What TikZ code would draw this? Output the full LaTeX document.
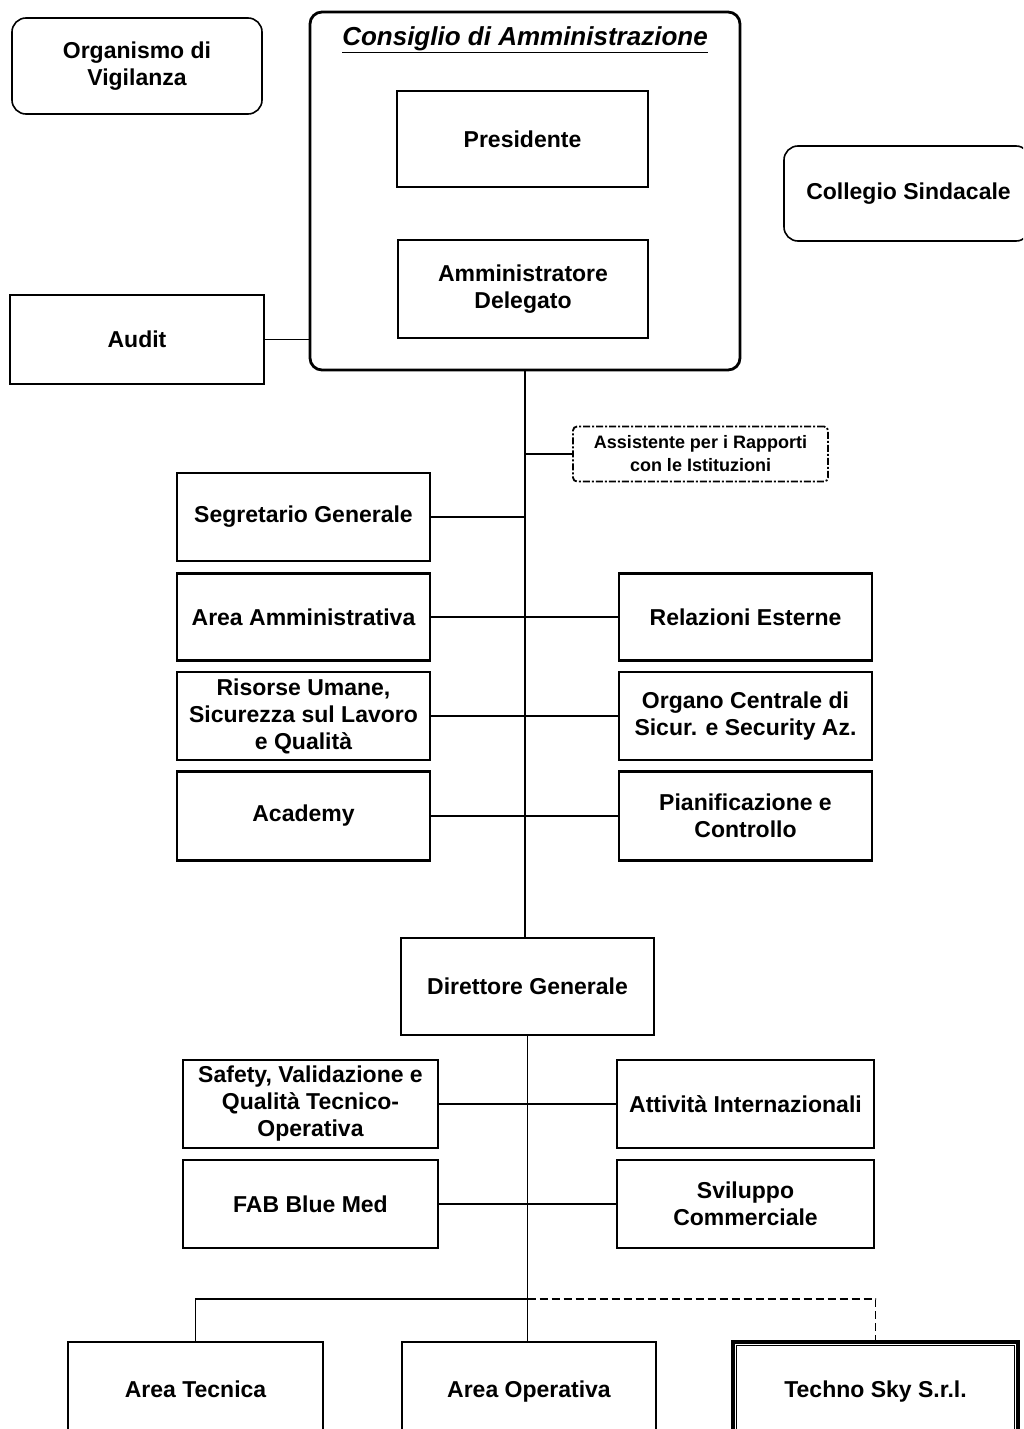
\documentclass[tikz,border=0pt]{standalone}
\usepackage{fontspec}
\setmainfont{Liberation Sans}
\begin{document}
\begin{tikzpicture}[x=1pt,y=-1pt,
  box/.style={draw, line width=2.2pt, align=center, inner sep=2pt,
    font=\bfseries\fontsize{23}{27}\selectfont},
  rbox/.style={box, line width=1.6pt, rounded corners=14pt},
  lowbox/.style={box, minimum height=98pt, text height=17pt, text depth=5pt},
  conn/.style={line width=1.8pt},
  dconn/.style={line width=1.8pt, dash pattern=on 8pt off 4pt}]
\useasboundingbox (0,0) rectangle (1023,1429);
\clip (0,0) rectangle (1023,1429);
% top row
\node[rbox, minimum width=250pt, minimum height=96pt] (org) at (137,66) {Organismo di\\Vigilanza};
\node[box, line width=2.8pt, rounded corners=12pt, minimum width=430pt, minimum height=358pt] (cda) at (525,191) {};
\node[font=\bfseries\itshape\fontsize{26}{30}\selectfont, inner sep=0pt] (cdat) at (525,40) {\underline{Consiglio di Amministrazione}};
\node[box, minimum width=251pt, minimum height=96pt] (pres) at (522.5,139) {Presidente};
\node[box, minimum width=250pt, minimum height=98pt] (ad) at (523,289) {Amministratore\\Delegato};
\node[rbox, minimum width=246pt, minimum height=95pt] (coll) at (907,193.5) {\hspace*{3pt}Collegio Sindacale};
\node[box, minimum width=254pt, minimum height=89pt] (audit) at (137,339.5) {Audit};
% staff
\node[box, line width=1.8pt, rounded corners=4pt, dash pattern=on 7pt off 2pt on 2pt off 2pt,
  minimum width=255pt, minimum height=55pt, font=\bfseries\fontsize{18}{23}\selectfont] (ass) at (700.5,454) {Assistente per i Rapporti\\con le Istituzioni};
\node[box, minimum width=253pt, minimum height=88pt] (seg) at (303.5,517) {Segretario Generale};
\node[box, minimum width=253pt, minimum height=87pt] (aam) at (303.5,617) {Area Amministrativa};
\node[box, minimum width=253pt, minimum height=87pt] (rel) at (745.5,617) {Relazioni Esterne};
\node[box, minimum width=253pt, minimum height=88pt] (ris) at (303.5,716) {Risorse Umane,\\Sicurezza sul Lavoro\\e Qualità};
\node[box, minimum width=253pt, minimum height=88pt] (ocs) at (745.5,716) {Organo Centrale di\\Sicur. e Security Az.};
\node[box, minimum width=253pt, minimum height=89pt] (acad) at (303.5,816) {Academy};
\node[box, minimum width=253pt, minimum height=89pt] (pian) at (745.5,816) {Pianificazione e\\Controllo};
% direttore
\node[box, minimum width=253pt, minimum height=97pt] (dg) at (527.5,986.5) {Direttore Generale};
\node[box, minimum width=255pt, minimum height=88pt] (saf) at (310.5,1104) {Safety, Validazione e\\Qualità Tecnico-\\Operativa};
\node[box, minimum width=257pt, minimum height=88pt] (att) at (745.5,1104) {Attività Internazionali};
\node[box, minimum width=255pt, minimum height=88pt] (fab) at (310.5,1204) {FAB Blue Med};
\node[box, minimum width=257pt, minimum height=88pt] (svi) at (745.5,1204) {Sviluppo\\Commerciale};
% bottom
\node[lowbox, minimum width=255pt] (at) at (195.5,1391) {Area Tecnica};
\node[lowbox, minimum width=254pt] (ao) at (529,1391) {Area Operativa};
\node[lowbox, line width=3.2pt, minimum width=285pt] (ts) at (875.5,1391) {Techno Sky S.r.l.};
\draw[line width=1pt] ([shift={(5pt,-5pt)}]ts.north west) rectangle ([shift={(-5pt,5pt)}]ts.south east);
% connectors
\draw[conn] (audit.east) -- (audit.east -| cda.west);
\draw[conn] (cda.south) -- (cda.south |- dg.north);
\draw[conn] (ass.west) -- (ass.west -| cda.south);
\draw[conn] (seg.east) -- (seg.east -| cda.south);
\draw[conn] (aam.east) -- (rel.west);
\draw[conn] (ris.east) -- (ocs.west);
\draw[conn] (acad.east) -- (pian.west);
\draw[conn] (dg.south) -- (dg.south |- ao.north);
\draw[conn] (saf.east) -- (att.west);
\draw[conn] (fab.east) -- (svi.west);
\coordinate (jn) at (527.5,1299);
\draw[conn] (jn) -| (at.north);
\draw[dconn] (jn) -| (ts.north);
\end{tikzpicture}
\end{document}
